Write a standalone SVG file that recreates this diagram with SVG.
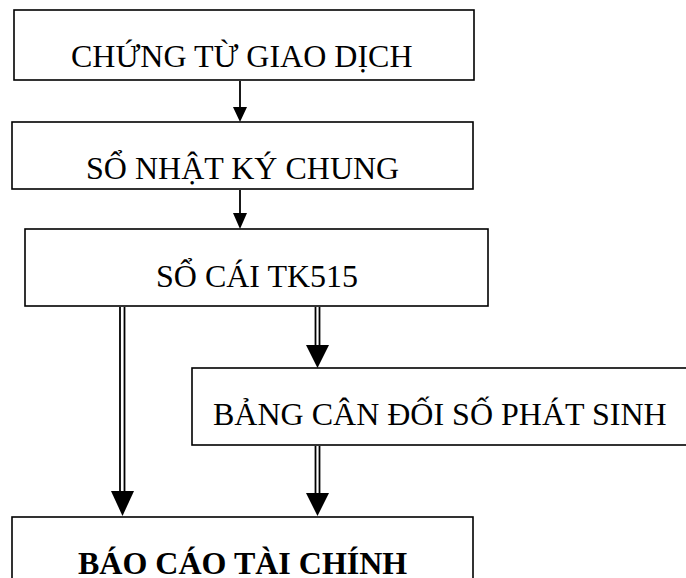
<svg xmlns="http://www.w3.org/2000/svg" width="686" height="578" viewBox="0 0 686 578">
<style>
.box{fill:#fff;stroke:#000;stroke-width:1.6}
.t{font-family:"Liberation Serif","Times New Roman",serif;font-size:32px;fill:#000}
.b{font-weight:bold}
.ln{stroke:#000;stroke-width:1.8;fill:none}
.hd{fill:#000;stroke:none}
</style>
<rect width="686" height="578" fill="#fff"/>
<g id="n1"><rect class="box" x="14" y="10" width="460" height="70"/><text class="t" x="71" y="67">CHỨNG TỪ GIAO DỊCH</text></g>
<g id="n2"><rect class="box" x="12" y="122" width="461" height="67"/><text class="t" x="86" y="179">SỔ NHẬT KÝ CHUNG</text></g>
<g id="n3"><rect class="box" x="25" y="229" width="463" height="77"/><text class="t" x="156" y="287">SỔ CÁI TK515</text></g>
<g id="n4"><rect class="box" x="192" y="368" width="510" height="77"/><text class="t" x="213" y="425">BẢNG CÂN ĐỐI SỐ PHÁT SINH</text></g>
<g id="n5"><rect class="box" x="12" y="517" width="461" height="80"/><text class="t b" x="78" y="574">BÁO CÁO TÀI CHÍNH</text></g>
<g id="connectors">
<line class="ln" x1="240" y1="81" x2="240" y2="108"/>
<polygon class="hd" points="233,107 247,107 240,122"/>
<line class="ln" x1="240" y1="190" x2="240" y2="214"/>
<polygon class="hd" points="233,213 247,213 240,229"/>
<line class="ln" x1="120" y1="307" x2="120" y2="492"/>
<line class="ln" x1="124.5" y1="307" x2="124.5" y2="492"/>
<polygon class="hd" points="111,491 134,491 122.5,516"/>
<line class="ln" x1="315.5" y1="307" x2="315.5" y2="346"/>
<line class="ln" x1="319.5" y1="307" x2="319.5" y2="346"/>
<polygon class="hd" points="306,345 329,345 317.5,368"/>
<line class="ln" x1="315.5" y1="446" x2="315.5" y2="494"/>
<line class="ln" x1="319.5" y1="446" x2="319.5" y2="494"/>
<polygon class="hd" points="306,493 329,493 317.5,516"/>
</g>
</svg>
